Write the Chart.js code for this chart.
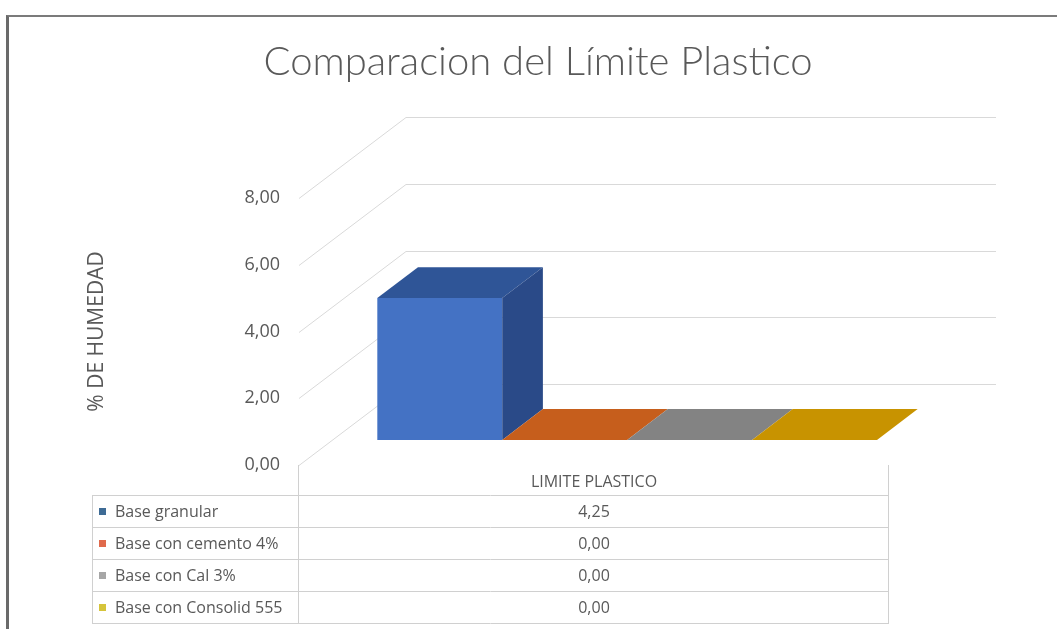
<!DOCTYPE html>
<html>
<head>
<meta charset="utf-8">
<title>Comparacion del Límite Plastico</title>
<script src="https://cdn.jsdelivr.net/npm/chart.js@4.4.1/dist/chart.umd.min.js"></script>
<style>
  html, body { margin: 0; padding: 0; background: #fff; overflow: hidden; }
  #frame {
    position: absolute; left: 6px; top: 15px; width: 1100px; height: 700px;
    border-top: 2px solid #7b7b7b; border-left: 3px solid #6a6a6a;
  }
  #limiteChart { position: absolute; left: 0; top: 0; }
</style>
</head>
<body>
<div id="frame"></div>
<canvas id="limiteChart" width="1057" height="629"></canvas>
<script>
// Límite plástico por tipo de base
const chartTitle = 'Comparacion del Límite Plastico';
const categories = ['LIMITE PLASTICO'];
const seriesNames = ['Base granular', 'Base con cemento 4%', 'Base con Cal 3%', 'Base con Consolid 555'];
const baseGranular = [4.25];
const baseCemento = [0.00];
const baseCal = [0.00];
const baseConsolid = [0.00];
const yTicks = [0, 2, 4, 6, 8];

// colours of the 3D faces and of the keys in the data table
const frontColors = ['#4472c4', '#ed7d31', '#a5a5a5', '#ffc000'];
const topColors = ['#2f5597', '#c65e1c', '#838383', '#c89300'];
const sideColors = ['#2a4a88', '#a94f14', '#6e6e6e', '#a97c00'];
const keyColors = ['#3e6b95', '#e06a4c', '#a6a6a6', '#d5c43b'];

// depth of the box (front plane -> back wall) and where the bars sit inside it
const WALL = { dx: 107, dy: -81 };
const BAR_FRONT = 0.31;
const BAR_BACK = 0.69;

const TEXT = '#595959';
const GRID = '#d9d9d9';

const fmt = v => v.toFixed(2).replace('.', ',');

function fillPoly(ctx, pts, color) {
    ctx.beginPath();
    ctx.moveTo(pts[0][0], pts[0][1]);
    for (let i = 1; i < pts.length; i++) ctx.lineTo(pts[i][0], pts[i][1]);
    ctx.closePath();
    ctx.fillStyle = color;
    ctx.fill();
}

const depthPlugin = {
    id: 'depth3d',
    beforeDatasetsDraw(chart) {
        const { ctx, chartArea: a, scales: { y } } = chart;
        // back wall and side wall gridlines
        ctx.save();
        ctx.strokeStyle = GRID;
        ctx.lineWidth = 1;
        yTicks.forEach(v => {
            const py = Math.round(y.getPixelForValue(v)) + 0.5;
            ctx.beginPath();
            ctx.moveTo(a.left, py);
            ctx.lineTo(a.left + WALL.dx, py + WALL.dy);
            ctx.lineTo(a.right + WALL.dx, py + WALL.dy);
            ctx.stroke();
        });
        ctx.restore();
        // front faces of the columns are drawn by Chart.js, pushed back into the box
        ctx.save();
        ctx.translate(WALL.dx * BAR_FRONT, WALL.dy * BAR_FRONT);
    },
    afterDatasetsDraw(chart) {
        const ctx = chart.ctx;
        ctx.restore();
        const fx = WALL.dx * BAR_FRONT, fy = WALL.dy * BAR_FRONT;
        const bx = WALL.dx * BAR_BACK, by = WALL.dy * BAR_BACK;
        chart.data.datasets.forEach((ds, i) => {
            const bar = chart.getDatasetMeta(i).data[0];
            const { x, y, base, width } = bar.getProps(['x', 'y', 'base', 'width'], true);
            const l = x - width / 2, r = x + width / 2;
            fillPoly(ctx, [[l + fx, y + fy], [r + fx, y + fy], [r + bx, y + by], [l + bx, y + by]], topColors[i]);
            if (base - y > 0.5) {
                fillPoly(ctx, [[r + fx, y + fy], [r + bx, y + by], [r + bx, base + by], [r + fx, base + fy]], sideColors[i]);
            }
        });
    },
    afterDraw(chart) {
        const { ctx, chartArea: a, scales: { x } } = chart;
        ctx.save();

        // title, centred over the whole box including its depth
        ctx.font = '300 40px Lato';
        ctx.fillStyle = TEXT;
        ctx.textAlign = 'center';
        ctx.textBaseline = 'middle';
        ctx.fillText(chartTitle, 538, 62);

        // data table under the plot
        const top = a.bottom + 30, rowH = 32, left = 92;
        const bottom = top + rowH * seriesNames.length;
        ctx.strokeStyle = '#d0d0d0';
        ctx.lineWidth = 1;
        ctx.beginPath();
        for (let k = 0; k <= seriesNames.length; k++) {
            const py = Math.round(top + k * rowH) + 0.5;
            ctx.moveTo(left, py);
            ctx.lineTo(a.right, py);
        }
        ctx.moveTo(left + 0.5, top);
        ctx.lineTo(left + 0.5, bottom);
        ctx.moveTo(Math.round(a.left) - 0.5, a.bottom);
        ctx.lineTo(Math.round(a.left) - 0.5, bottom);
        ctx.moveTo(Math.round(a.right) - 0.5, a.bottom);
        ctx.lineTo(Math.round(a.right) - 0.5, bottom);
        ctx.stroke();

        ctx.font = '16px "Open Sans"';
        const cx = x.getPixelForValue(0);
        chart.data.datasets.forEach((ds, i) => {
            const cy = top + rowH * i + rowH / 2 + 1;
            ctx.fillStyle = keyColors[i];
            ctx.fillRect(99, Math.round(cy - 4), 7, 7);
            ctx.fillStyle = TEXT;
            ctx.textAlign = 'left';
            ctx.fillText(ds.label, 115, cy);
            ctx.textAlign = 'center';
            ctx.fillText(fmt(ds.data[0]), cx, cy);
        });
        ctx.restore();
    }
};

const seriesData = [baseGranular, baseCemento, baseCal, baseConsolid];

new Chart(document.getElementById('limiteChart'), {
    type: 'bar',
    data: {
        labels: categories,
        datasets: seriesNames.map((name, i) => ({
            label: name,
            data: seriesData[i],
            backgroundColor: frontColors[i],
            borderWidth: 0,
            barPercentage: 1,
            categoryPercentage: 0.847,
            clip: false
        }))
    },
    options: {
        responsive: false,
        animation: false,
        devicePixelRatio: 1,
        layout: { padding: { left: 80, right: 168, top: 198, bottom: 134 } },
        plugins: {
            legend: { display: false },
            tooltip: { enabled: false },
            title: { display: false }
        },
        scales: {
            x: {
                grid: { display: false, drawTicks: false },
                border: { display: false },
                ticks: { color: TEXT, font: { family: 'Open Sans', size: 16 }, padding: 8 },
                afterFit(scale) { scale.height = 30; }
            },
            y: {
                min: 0,
                max: 8,
                grid: { display: false, drawTicks: false },
                border: { display: false },
                ticks: {
                    stepSize: 2,
                    padding: 19,
                    color: TEXT,
                    font: { family: 'Open Sans', size: 18 },
                    callback: v => fmt(v)
                },
                title: {
                    display: true,
                    text: '% DE HUMEDAD',
                    color: TEXT,
                    font: { family: 'Open Sans', size: 21 },
                    padding: { top: 4, bottom: 0 }
                },
                afterFit(scale) { scale.width = 219; }
            }
        }
    },
    plugins: [depthPlugin]
});
</script>
</body>
</html>
